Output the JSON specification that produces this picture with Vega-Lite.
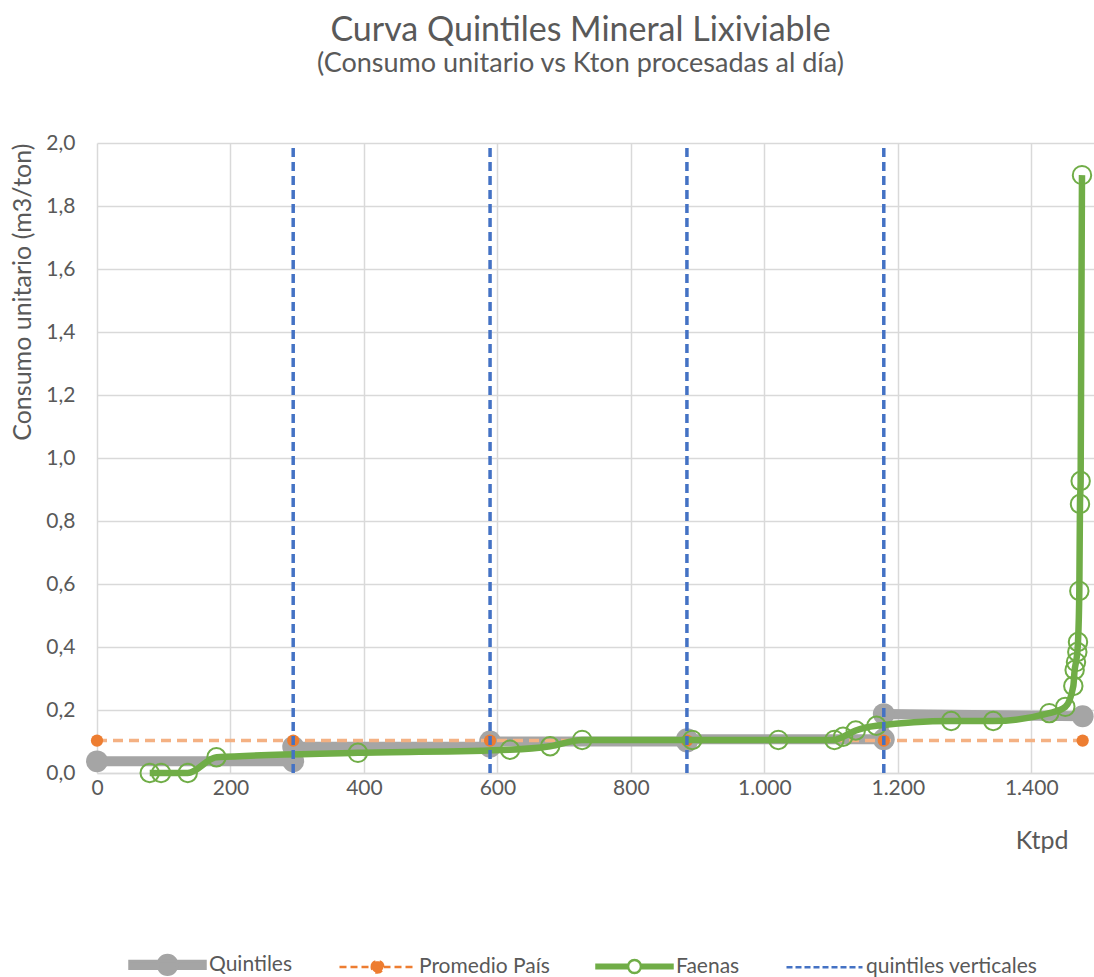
{
  "$schema": "https://vega.github.io/schema/vega-lite/v6.json",
  "width": 997,
  "height": 630,
  "autosize": {"type": "none"},
  "padding": {"left": 97, "top": 143, "right": 0, "bottom": 204},
  "background": "white",
  "config": {
    "locale": {"number": {"decimal": ",", "thousands": ".", "grouping": [3], "currency": ["$", ""]}},
    "font": "Lato",
    "view": {"stroke": null},
    "axis": {
      "grid": true,
      "gridColor": "#d9d9d9",
      "gridWidth": 1.5,
      "ticks": false,
      "labelFlush": false,
      "labelFont": "Lato",
      "labelFontSize": 21,
      "labelColor": "#595959",
      "titleFont": "Lato",
      "titleFontSize": 25,
      "titleFontWeight": "normal",
      "titleColor": "#595959"
    }
  },
  "title": {
    "text": "Curva Quintiles Mineral Lixiviable",
    "subtitle": "(Consumo unitario vs Kton procesadas al día)",
    "font": "Lato",
    "fontSize": 34,
    "fontWeight": "normal",
    "color": "#595959",
    "subtitleFont": "Lato",
    "subtitleFontSize": 27,
    "subtitleColor": "#595959",
    "subtitlePadding": 3,
    "anchor": "middle",
    "dx": -15,
    "offset": 55
  },
  "datasets": {
    "quint": [
      {"x": 0, "y": 0.037, "i": 1},
      {"x": 294, "y": 0.037, "i": 2},
      {"x": 294, "y": 0.083, "i": 3},
      {"x": 589, "y": 0.083, "i": 4},
      {"x": 589, "y": 0.1, "i": 5},
      {"x": 884, "y": 0.1, "i": 6},
      {"x": 884, "y": 0.107, "i": 7},
      {"x": 1179, "y": 0.107, "i": 8},
      {"x": 1179, "y": 0.187, "i": 9},
      {"x": 1477, "y": 0.18, "i": 10}
    ],
    "prom": [
      {"x": 0, "y": 0.103},
      {"x": 294, "y": 0.103},
      {"x": 589, "y": 0.103},
      {"x": 884, "y": 0.103},
      {"x": 1179, "y": 0.103},
      {"x": 1477, "y": 0.103}
    ],
    "faenas": [
      {"x": 79, "y": 0.0},
      {"x": 96, "y": 0.0},
      {"x": 136, "y": 0.0},
      {"x": 179, "y": 0.05},
      {"x": 391, "y": 0.064},
      {"x": 619, "y": 0.074},
      {"x": 679, "y": 0.085},
      {"x": 727, "y": 0.105},
      {"x": 892, "y": 0.105},
      {"x": 1021, "y": 0.105},
      {"x": 1105, "y": 0.105},
      {"x": 1118, "y": 0.115},
      {"x": 1137, "y": 0.135},
      {"x": 1168, "y": 0.15},
      {"x": 1280, "y": 0.165},
      {"x": 1343, "y": 0.165},
      {"x": 1427, "y": 0.19},
      {"x": 1451, "y": 0.21},
      {"x": 1463, "y": 0.276},
      {"x": 1465, "y": 0.327},
      {"x": 1467, "y": 0.352},
      {"x": 1469, "y": 0.384},
      {"x": 1470, "y": 0.416},
      {"x": 1472, "y": 0.578},
      {"x": 1473, "y": 0.854},
      {"x": 1474, "y": 0.927},
      {"x": 1476, "y": 1.898}
    ],
    "vert": [
      {"x": 294, "y": 0, "y2": 2},
      {"x": 589, "y": 0, "y2": 2},
      {"x": 884, "y": 0, "y2": 2},
      {"x": 1179, "y": 0, "y2": 2}
    ]
  },
  "encoding": {
    "x": {
      "field": "x",
      "type": "quantitative",
      "scale": {"domain": [0, 1494], "nice": false, "zero": false},
      "axis": {
        "values": [0, 200, 400, 600, 800, 1000, 1200, 1400],
        "format": ",d",
        "domain": true,
        "domainColor": "#d9d9d9",
        "domainWidth": 1.5,
        "labelPadding": 4,
        "title": "Ktpd",
        "titleFontSize": 25,
        "titleAnchor": "end",
        "titleAlign": "right",
        "titleX": 971,
        "titleY": 67,
        "titleBaseline": "middle"
      }
    },
    "y": {
      "field": "y",
      "type": "quantitative",
      "scale": {"domain": [0, 2], "nice": false},
      "axis": {
        "values": [0, 0.2, 0.4, 0.6, 0.8, 1.0, 1.2, 1.4, 1.6, 1.8, 2.0],
        "format": ".1f",
        "domain": false,
        "labelPadding": 22,
        "title": "Consumo unitario (m3/ton)",
        "titleAnchor": "end",
        "titlePadding": 10
      }
    }
  },
  "layer": [
    {
      "data": {"name": "quint"},
      "mark": {"type": "line", "color": "#a5a5a5", "strokeWidth": 10, "strokeJoin": "round", "strokeCap": "round"},
      "encoding": {"order": {"field": "i", "type": "quantitative"}}
    },
    {
      "data": {"name": "quint"},
      "mark": {"type": "circle", "size": 480, "opacity": 1},
      "encoding": {
        "color": {
          "datum": "Quintiles",
          "type": "nominal",
          "scale": {
            "domain": ["Quintiles", "Promedio País", "Faenas", "quintiles verticales"],
            "range": ["#a5a5a5", "#ed7d31", "#70ad47", "#4472c4"]
          },
          "legend": {
            "orient": "none",
            "legendX": 31,
            "legendY": 782,
            "direction": "horizontal",
            "title": null,
            "symbolSize": 5776,
            "symbolStrokeWidth": 2.5,
            "symbolOpacity": 1,
            "symbolType": {"expr": "(datum.value === 'quintiles verticales' ? 'M-1,0L1,0' : datum.value === 'Quintiles' ? 'M-1,-0.099L1,-0.099L1,0.099L-1,0.099ZM-0.257,0A0.257,0.257 0 1,1 0.257,0A0.257,0.257 0 1,1 -0.257,0Z' : datum.value === 'Promedio País' ? 'M-1,0L1,0M-0.151,0A0.151,0.151 0 1,1 0.151,0A0.151,0.151 0 1,1 -0.151,0Z' : 'M-1,-0.046L-0.17,-0.046L-0.17,0.046L-1,0.046ZM0.17,-0.046L1,-0.046L1,0.046L0.17,0.046ZM-0.17,0A0.17,0.17 0 1,1 0.17,0A0.17,0.17 0 1,1 -0.17,0ZM-0.17,0A0.17,0.17 0 1,0 0.17,0A0.17,0.17 0 1,0 -0.17,0Z')"},
            "symbolStrokeColor": {"expr": "(datum.value === 'Quintiles' ? '#a5a5a5' : datum.value === 'Promedio País' ? '#f4b183' : datum.value === 'Faenas' ? '#70ad47' : '#4472c4')"},
            "symbolDash": {"expr": "(datum.value === 'Promedio País' ? [7, 4] : datum.value === 'quintiles verticales' ? [6, 3] : [])"},
            "labelFont": "Lato",
            "labelFontSize": 21,
            "labelColor": "#595959",
            "labelOffset": 2,
            "labelLimit": 400,
            "columnPadding": 41
          }
        }
      }
    },
    {
      "data": {"name": "prom"},
      "mark": {"type": "line", "color": "#f4b183", "strokeWidth": 3.5, "strokeDash": [10, 6]}
    },
    {
      "data": {"name": "prom"},
      "mark": {"type": "circle", "size": 150, "opacity": 1},
      "encoding": {"color": {"datum": "Promedio País", "type": "nominal", "legend": null}}
    },
    {
      "data": {"name": "faenas"},
      "mark": {"type": "line", "color": "#70ad47", "strokeWidth": 6.5, "interpolate": "monotone", "strokeJoin": "round"}
    },
    {
      "data": {"name": "faenas"},
      "mark": {"type": "point", "shape": "circle", "filled": false, "size": 340, "strokeWidth": 2, "opacity": 1},
      "encoding": {"color": {"datum": "Faenas", "type": "nominal", "legend": null}}
    },
    {
      "data": {"name": "vert"},
      "mark": {"type": "rule", "strokeWidth": 3.5, "strokeDash": [9, 5]},
      "encoding": {
        "y": {"field": "y", "type": "quantitative"},
        "y2": {"field": "y2"},
        "color": {"datum": "quintiles verticales", "type": "nominal", "legend": null}
      }
    }
  ]
}
